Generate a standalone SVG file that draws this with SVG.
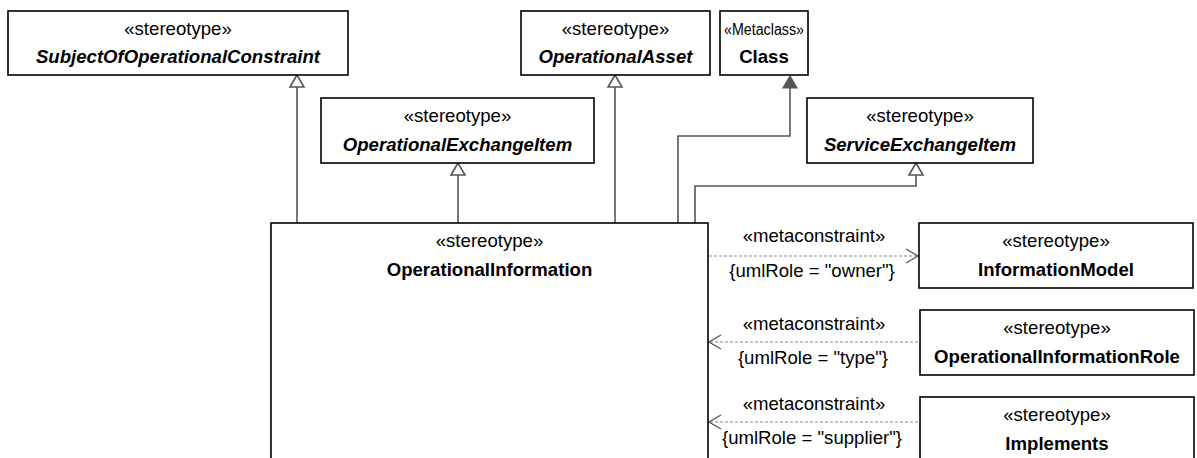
<svg xmlns="http://www.w3.org/2000/svg" width="1197" height="458" viewBox="0 0 1197 458">
<style>
.box{fill:#fff;stroke:#000;stroke-width:1.6}
.st{font-family:"Liberation Sans",Arial,sans-serif;font-size:18.6px;text-anchor:middle;fill:#000}
.nm{font-family:"Liberation Sans",Arial,sans-serif;font-size:18.6px;font-weight:bold;text-anchor:middle;fill:#000}
.it{font-style:italic}
.gen{fill:none;stroke:#555;stroke-width:1.6}
.dep{fill:none;stroke:#888;stroke-width:1.2;stroke-dasharray:3 2}
.open{fill:#fff;stroke:#555;stroke-width:1.6}
.filled{fill:#555;stroke:#555;stroke-width:1.2}
.vee{fill:none;stroke:#555;stroke-width:1.3}
</style>
<rect width="1197" height="458" fill="#fff"/>
<g id="connectors">
  <polyline class="gen" points="297,223 297,87"/>
  <polygon class="open" points="297,75 290,87 304,87"/>
  <polyline class="gen" points="458,223 458,175"/>
  <polygon class="open" points="458,163 451,175 465,175"/>
  <polyline class="gen" points="615,223 615,87"/>
  <polygon class="open" points="615,75 608,87 622,87"/>
  <polyline class="gen" points="678,223 678,136 790,136 790,88"/>
  <polygon class="filled" points="790,76 783,88 797,88"/>
  <polyline class="gen" points="695,223 695,186 916,186 916,175"/>
  <polygon class="open" points="916,163 909,175 923,175"/>
  <line class="dep" x1="709" y1="256" x2="918" y2="256"/>
  <polyline class="vee" points="906,249 918,256 906,263"/>
  <line class="dep" x1="710" y1="342" x2="919" y2="342"/>
  <polyline class="vee" points="721,335 709,342 721,349"/>
  <line class="dep" x1="710" y1="422" x2="919" y2="422"/>
  <polyline class="vee" points="721,415 709,422 721,429"/>
  <text class="st" x="814" y="242">«metaconstraint»</text>
  <text class="st" x="812" y="277">{umlRole = "owner"}</text>
  <text class="st" x="814" y="330">«metaconstraint»</text>
  <text class="st" x="813" y="364">{umlRole = "type"}</text>
  <text class="st" x="814" y="410">«metaconstraint»</text>
  <text class="st" x="812" y="444">{umlRole = "supplier"}</text>
</g>
<g id="SubjectOfOperationalConstraint">
  <rect class="box" x="8" y="11" width="340" height="64"/>
  <text class="st" x="178" y="35">«stereotype»</text>
  <text class="nm it" x="178" y="63">SubjectOfOperationalConstraint</text>
</g>
<g id="OperationalAsset">
  <rect class="box" x="521" y="11" width="189" height="64"/>
  <text class="st" x="615.5" y="35">«stereotype»</text>
  <text class="nm it" x="615.5" y="63">OperationalAsset</text>
</g>
<g id="Class">
  <rect class="box" x="720" y="11" width="88" height="64"/>
  <text class="st" x="764" y="35" style="font-size:16px" textLength="80" lengthAdjust="spacingAndGlyphs">«Metaclass»</text>
  <text class="nm" x="764" y="63">Class</text>
</g>
<g id="OperationalExchangeItem">
  <rect class="box" x="321" y="98" width="273" height="65"/>
  <text class="st" x="457.5" y="122">«stereotype»</text>
  <text class="nm it" x="457.5" y="151">OperationalExchangeItem</text>
</g>
<g id="ServiceExchangeItem">
  <rect class="box" x="807" y="98" width="226" height="65"/>
  <text class="st" x="920" y="122">«stereotype»</text>
  <text class="nm it" x="920" y="151">ServiceExchangeItem</text>
</g>
<g id="OperationalInformation">
  <rect class="box" x="271" y="223" width="437" height="250"/>
  <text class="st" x="489.5" y="247">«stereotype»</text>
  <text class="nm" x="489.5" y="276">OperationalInformation</text>
</g>
<g id="InformationModel">
  <rect class="box" x="919" y="223" width="274" height="65"/>
  <text class="st" x="1056" y="247">«stereotype»</text>
  <text class="nm" x="1056" y="276">InformationModel</text>
</g>
<g id="OperationalInformationRole">
  <rect class="box" x="920" y="310" width="274" height="65"/>
  <text class="st" x="1057" y="334">«stereotype»</text>
  <text class="nm" x="1057" y="363">OperationalInformationRole</text>
</g>
<g id="Implements">
  <rect class="box" x="920" y="397" width="274" height="75"/>
  <text class="st" x="1057" y="421">«stereotype»</text>
  <text class="nm" x="1057" y="450">Implements</text>
</g>
</svg>
